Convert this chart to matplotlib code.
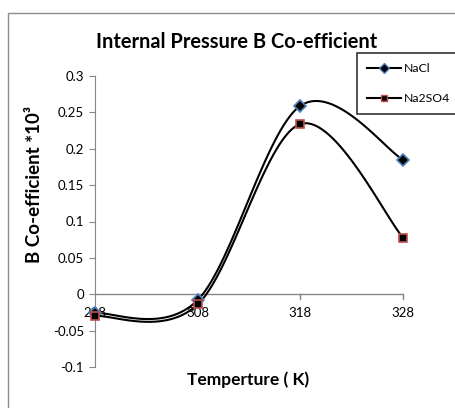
import numpy as np
import matplotlib
matplotlib.use('Agg')
import matplotlib.pyplot as plt
from matplotlib.patches import Rectangle
from matplotlib.transforms import offset_copy

temps = [298, 308, 318, 328]
nacl = [-0.026, -0.008, 0.259, 0.185]
na2so4 = [-0.030, -0.014, 0.234, 0.078]
yticks = [-0.1, -0.05, 0, 0.05, 0.1, 0.15, 0.2, 0.25, 0.3]
ytick_labels = ['-0.1', '-0.05', '0', '0.05', '0.1', '0.15', '0.2', '0.25', '0.3']

plt.rcParams['font.family'] = ['Lato', 'DejaVu Sans']


def smooth(x, y, n=40):
    # excel-like smoothed line: bezier segments with catmull-rom control points
    p = np.column_stack([x, y]).astype(float)
    pts = np.vstack([p[0], p, p[-1]])
    t = np.linspace(0, 1, n)[:, None]
    out = []
    for i in range(1, len(pts) - 2):
        p0, p1, p2, p3 = pts[i - 1], pts[i], pts[i + 1], pts[i + 2]
        c1 = p1 + (p2 - p0) / 6
        c2 = p2 - (p3 - p1) / 6
        seg = ((1 - t) ** 3) * p1 + 3 * ((1 - t) ** 2) * t * c1 + 3 * (1 - t) * t ** 2 * c2 + t ** 3 * p2
        out.append(seg)
    out = np.vstack(out)
    return out[:, 0], out[:, 1]


fig = plt.figure(figsize=(4.55, 4.08), dpi=100)
W, H = 455, 408

# outer chart border
fig.patches.append(Rectangle((8 / W, -0.05), 1.1, 1 - 13 / H + 0.05, transform=fig.transFigure,
                             fill=False, edgecolor='#8c8c8c', linewidth=1))

ax = fig.add_axes([95 / W, 41 / H, 308 / W, 291 / H])
ax.set_xlim(298, 328)
ax.set_ylim(-0.1, 0.3)

grey = '#868686'
for s in ['top', 'right', 'bottom']:
    ax.spines[s].set_visible(False)
ax.spines['left'].set_color(grey)
ax.axhline(0, color=grey, linewidth=1, zorder=1)

ax.set_yticks(yticks)
ax.set_yticklabels(ytick_labels)
ax.tick_params(axis='y', colors=grey, labelcolor='black', length=4, labelsize=9.5, pad=4)
ax.set_xticks([])

# category labels sitting just under the zero line
lab_tr = offset_copy(ax.transData, fig=fig, x=0, y=-13, units='dots')
for t in temps:
    ax.text(t, 0, str(t), transform=lab_tr, ha='center', va='top', fontsize=9.5,
            color='black')
    if t != 298:
        ax.plot([t, t], [0, -0.006], color=grey, linewidth=1, clip_on=False)

xs, ys = smooth(temps, nacl)
ax.plot(xs, ys, color='black', linewidth=1.5, zorder=3)
ax.plot(temps, nacl, linestyle='none', marker='D', markersize=6.5,
        markerfacecolor='black', markeredgecolor='#4f81bd', markeredgewidth=1.2, zorder=4,
        clip_on=False)
xs, ys = smooth(temps, na2so4)
ax.plot(xs, ys, color='black', linewidth=1.5, zorder=3)
ax.plot(temps, na2so4, linestyle='none', marker='s', markersize=6,
        markerfacecolor='black', markeredgecolor='#c0504d', markeredgewidth=1.2, zorder=4,
        clip_on=False)

# legend proxies
h1, = ax.plot([], [], color='black', linewidth=1.5, marker='D', markersize=5,
              markerfacecolor='black', markeredgecolor='#4f81bd', label='NaCl')
h2, = ax.plot([], [], color='black', linewidth=1.5, marker='s', markersize=5,
              markerfacecolor='black', markeredgecolor='#c0504d', label='Na2SO4')
leg = fig.legend(handles=[h1, h2], loc='upper left',
                 bbox_to_anchor=(357 / W, 1 - 53 / H, 120 / W, 0), mode='expand',
                 fontsize=8.8, frameon=True, fancybox=False, borderpad=0.8,
                 labelspacing=1.6, handlelength=2.8, handletextpad=0.2, borderaxespad=0)
leg.get_frame().set_edgecolor('black')
leg.get_frame().set_linewidth(1.2)

fig.text(237 / W, 1 - 42 / H, 'Internal Pressure B Co-efficient', ha='center', va='center',
         fontsize=14.4, fontweight='bold')
fig.text(35 / W, 1 - 184 / H, 'B Co-efficient *10³', ha='center', va='center',
         rotation=90, fontsize=13.5, fontweight='bold')
fig.text(248 / W, 1 - 380 / H, 'Temperture ( K)', ha='center', va='center',
         fontsize=12.5, fontweight='bold')

fig.savefig('out.png', dpi=100)
